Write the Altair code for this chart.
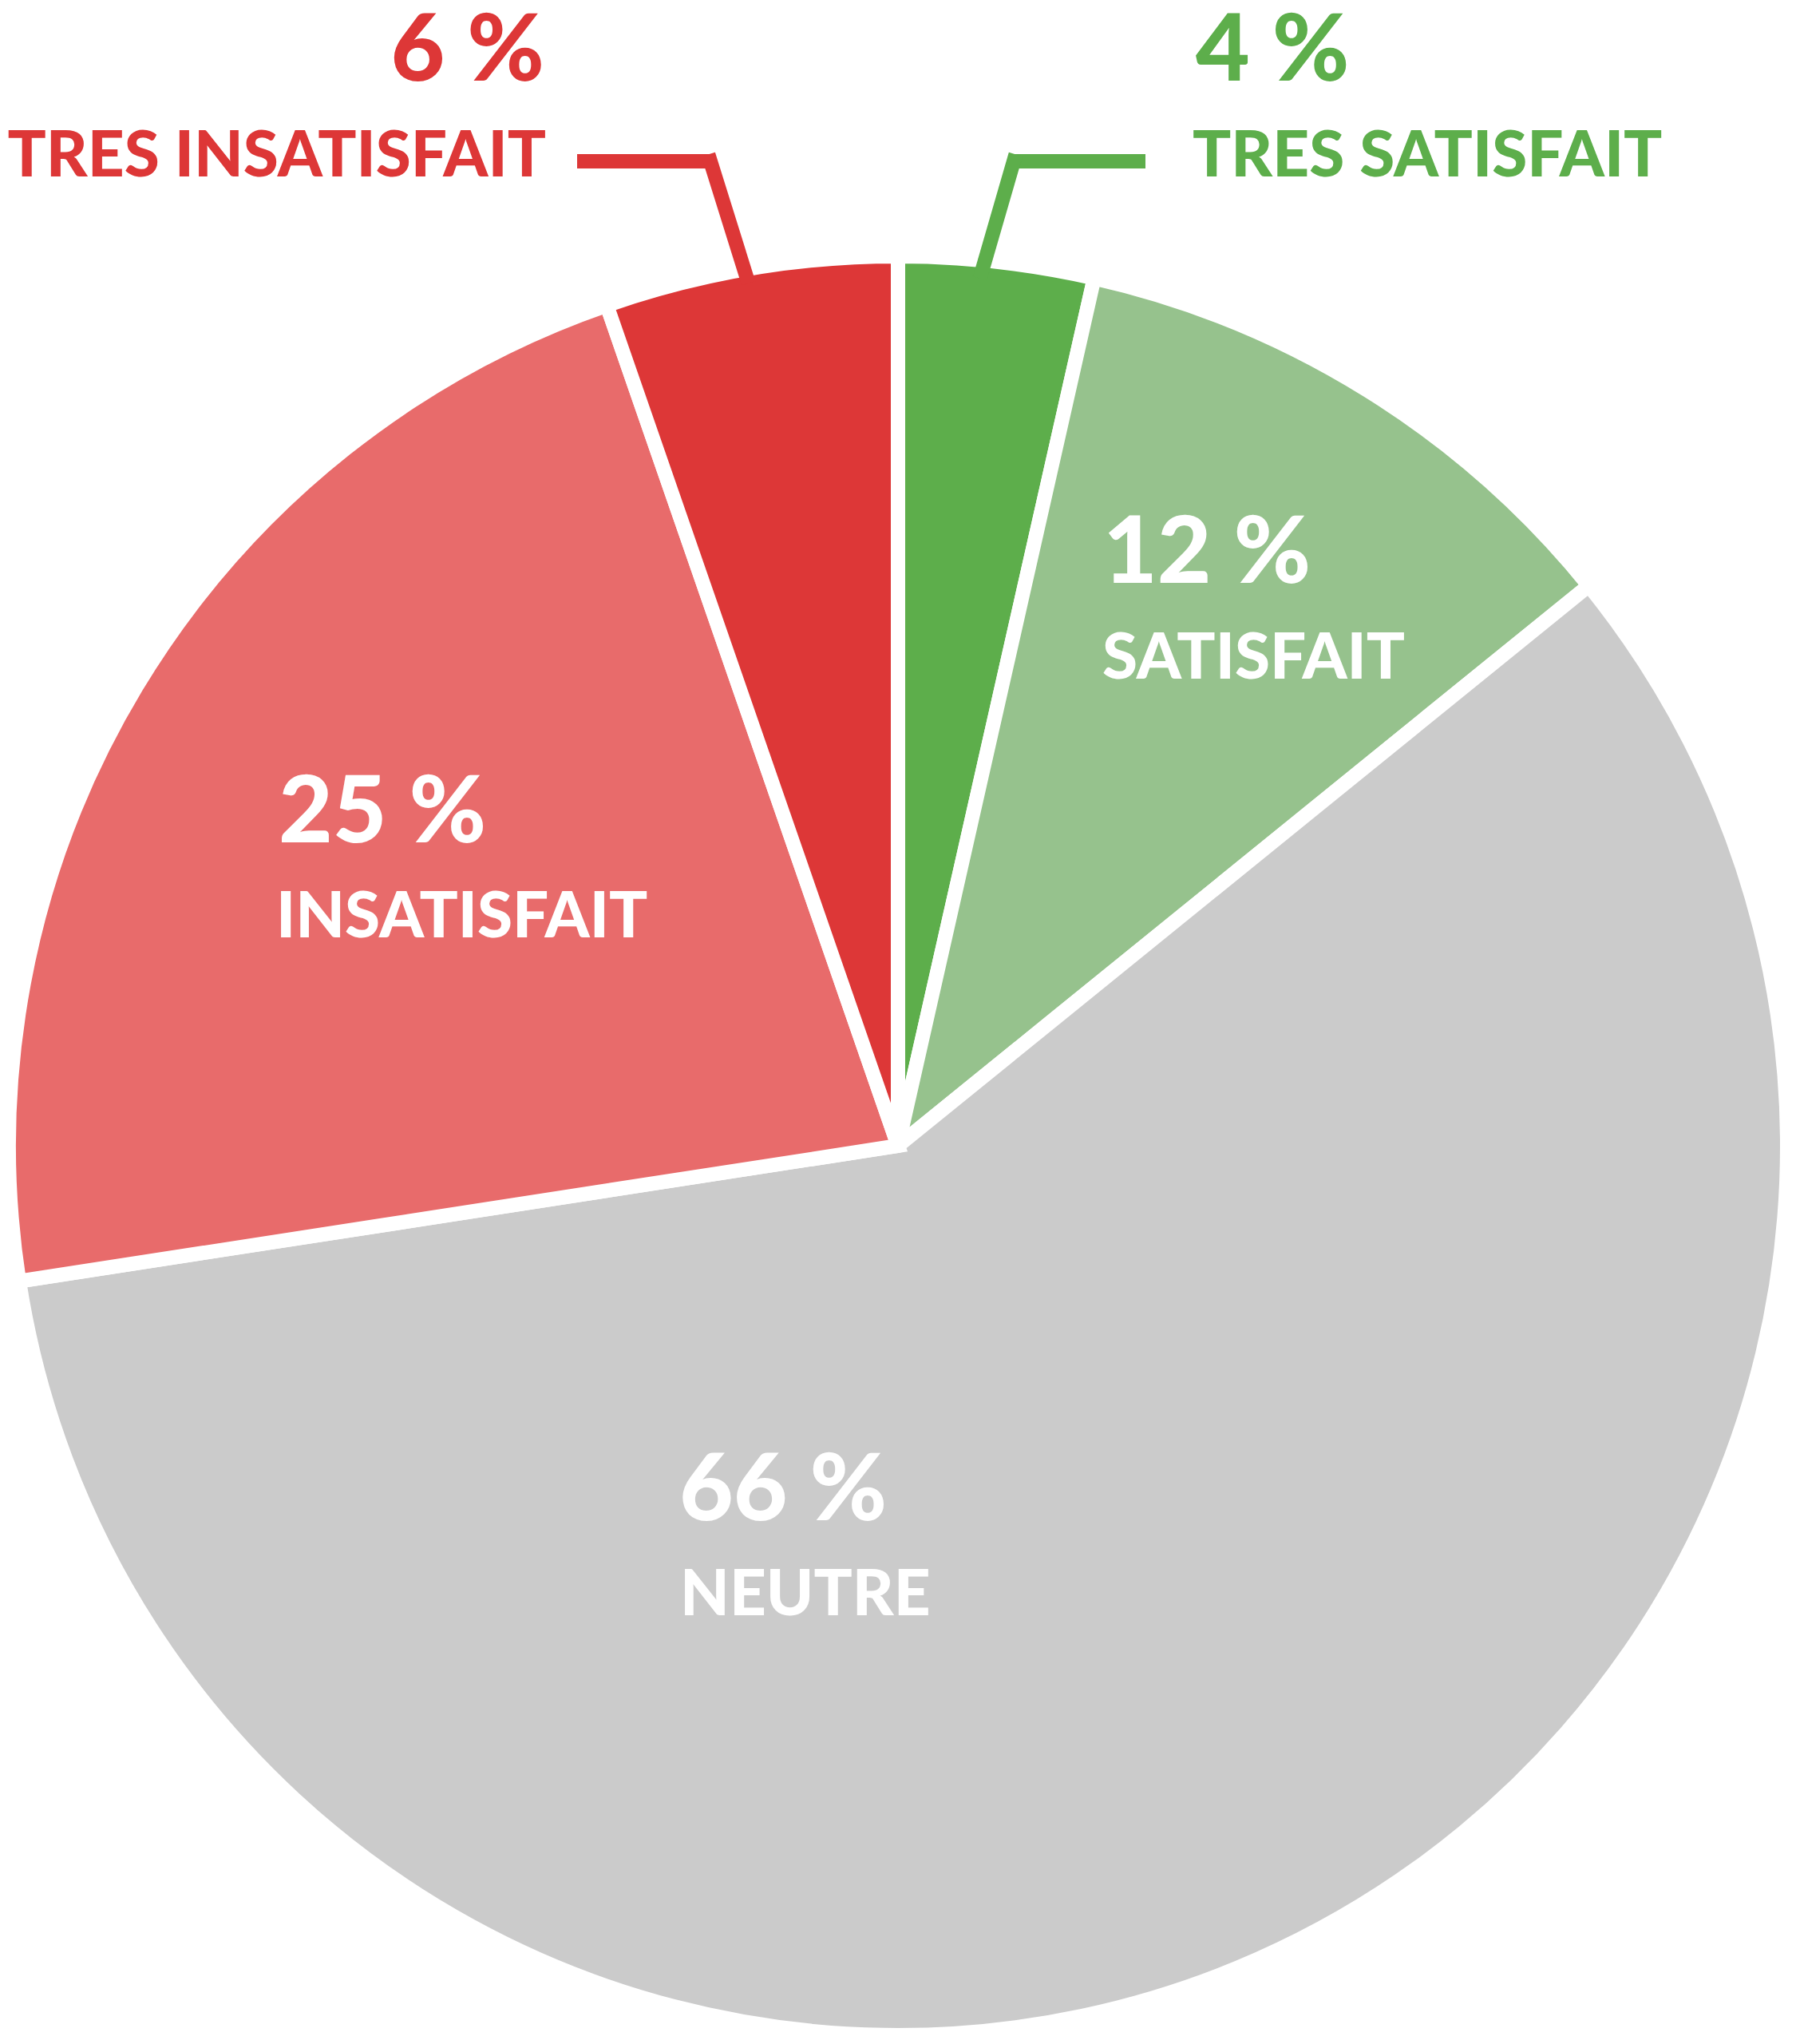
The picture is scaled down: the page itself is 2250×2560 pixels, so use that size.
import altair as alt
import pandas as pd

categories = ["TRES SATISFAIT", "SATISFAIT", "NEUTRE", "INSATISFAIT", "TRES INSATISFAIT"]
values = [4, 12, 66, 25, 6]
colors = ["#5DAE4B", "#96C28D", "#CBCBCB", "#E86B6B", "#DD3737"]

df = pd.DataFrame({
    "cat": categories,
    "value": values,
    "idx": list(range(len(categories))),
    "pct": [f"{v} %" for v in values],
})

W, H = 2234, 2544
CX, CY = 1117, 1427
FONT = "Lato"

base = alt.Chart(df)

pie = base.mark_arc(outerRadius=1114, stroke="white", strokeWidth=18, strokeJoin="miter").encode(
    theta=alt.Theta("value:Q", stack=True),
    order=alt.Order("idx:Q"),
    color=alt.Color("cat:N", scale=alt.Scale(domain=categories, range=colors), legend=None),
    x=alt.value(CX),
    y=alt.value(CY),
)


def rule(x1, y1, x2, y2, color, cap):
    return base.transform_filter(alt.datum.idx == 0).mark_rule(
        color=color, strokeWidth=18, strokeCap=cap
    ).encode(x=alt.value(x1), y=alt.value(y1), x2=alt.value(x2), y2=alt.value(y2))


leaders = [
    rule(715, 194, 882, 194, "#DD3737", "butt"),
    rule(882, 194, 927, 338, "#DD3737", "square"),
    rule(1262, 194, 1427, 194, "#5DAE4B", "butt"),
    rule(1262, 194, 1222, 332, "#5DAE4B", "square"),
]


def label(cat, field, x, y, size, color, align="left"):
    return base.transform_filter(alt.datum.cat == cat).mark_text(
        font=FONT, fontWeight=900, fontSize=size, color=color, align=align, baseline="alphabetic"
    ).encode(x=alt.value(x), y=alt.value(y), text=f"{field}:N")


labels = [
    label("TRES INSATISFAIT", "pct", 674, 93, 117, "#DD3737", "right"),
    label("TRES INSATISFAIT", "cat", 676, 213, 80, "#DD3737", "right"),
    label("TRES SATISFAIT", "pct", 1490, 93, 117, "#5DAE4B"),
    label("TRES SATISFAIT", "cat", 1486, 213, 80, "#5DAE4B"),
    label("SATISFAIT", "pct", 1374, 722, 117, "white"),
    label("SATISFAIT", "cat", 1373, 842, 80, "white"),
    label("INSATISFAIT", "pct", 341, 1047, 117, "white"),
    label("INSATISFAIT", "cat", 338, 1166, 80, "white"),
    label("NEUTRE", "pct", 843, 1896, 117, "white"),
    label("NEUTRE", "cat", 844, 2015, 80, "white"),
]

chart = alt.layer(pie, *leaders, *labels).properties(
    width=W,
    height=H,
    padding=0,
    autosize=alt.AutoSizeParams(type="none"),
    background="white",
).configure_view(stroke=None)

chart.save("out.html", embed_options={"renderer": "svg", "actions": False})
